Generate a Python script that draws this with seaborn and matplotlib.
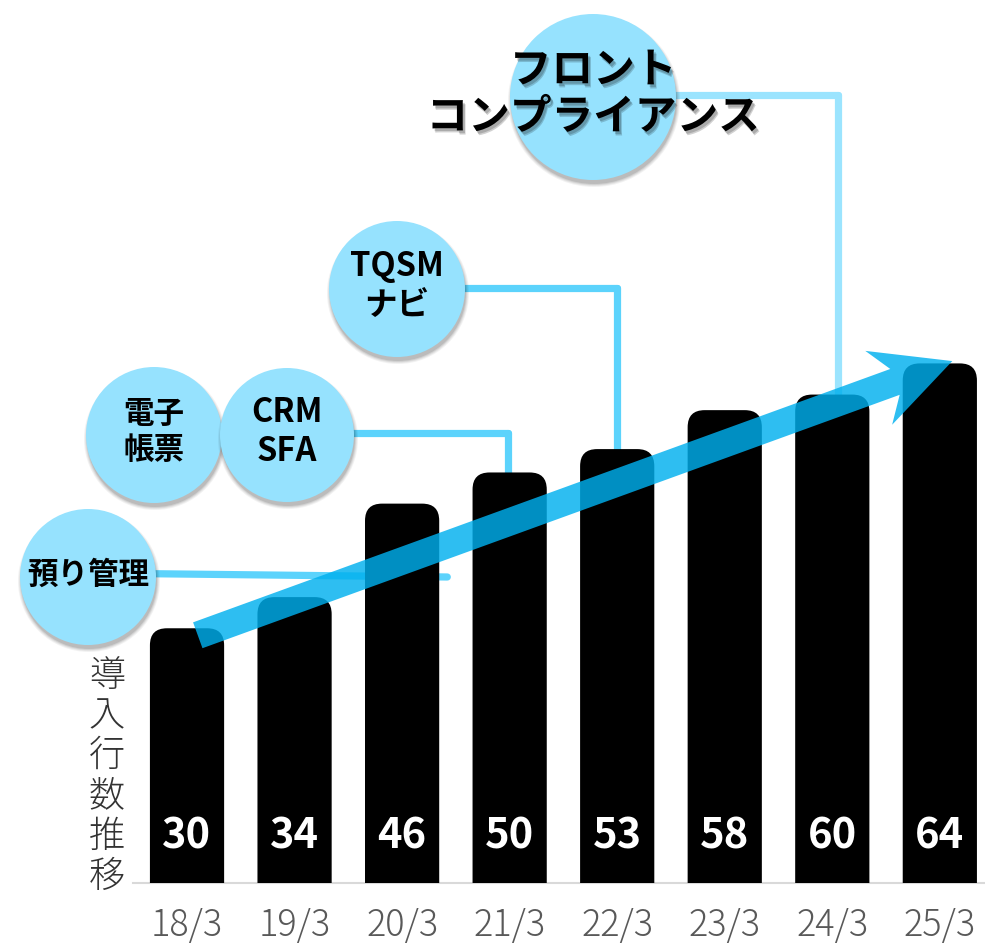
import numpy as np
import pandas as pd
import matplotlib
matplotlib.use("Agg")
import matplotlib.pyplot as plt
import seaborn as sns
from matplotlib.patches import FancyBboxPatch, Circle, Polygon
import matplotlib.patheffects as pe

# ---------------- data ----------------
periods = ["18/3", "19/3", "20/3", "21/3", "22/3", "23/3", "24/3", "25/3"]
counts = [30, 34, 46, 50, 53, 58, 60, 64]
ylabel_text = "導入行数推移"
milestone_labels = ["預り管理", "電子\n帳票", "CRM\nSFA", "TQSM\nナビ", "フロント\nコンプライアンス"]

# ---------------- style ----------------
sns.set_theme(style="white")
plt.rcParams["font.family"] = ["Noto Sans CJK JP", "DejaVu Sans"]

BUBBLE = "#96E2FE"
LINE = "#5CD3FC"
LINE_LIGHT = "#9BE4FE"
ARROW = "#00B0EE"

W, H = 985, 948
fig = plt.figure(figsize=(W / 100, H / 100), dpi=100)

# layer below bars (connector lines) in pixel coordinates
ax_under = fig.add_axes([0, 0, 1, 1], zorder=0)
ax_under.set_xlim(0, W); ax_under.set_ylim(H, 0); ax_under.axis("off")

# main bar axes
left_px, base_px = 133.25, 883
ax = fig.add_axes([left_px / W, (H - base_px) / H, (W - left_px) / W, base_px / H], zorder=1)
ax.patch.set_alpha(0)
df = pd.DataFrame({"period": periods, "count": counts})
sns.barplot(data=df, x="period", y="count", color="black", width=0.69,
            saturation=1, ax=ax)
ax.set_xlim(-0.5, 7.42)
ax.set_ylim(-2.7, 110.65)

p0 = ax.transData.transform((0, 0)); p1 = ax.transData.transform((1, 1))
ppx, ppy = p1[0] - p0[0], p1[1] - p0[1]
rad_px = 17
bar_info = []
for bar in list(ax.patches):
    x0, w, h = bar.get_x(), bar.get_width(), bar.get_height()
    bottom = -12
    fb = FancyBboxPatch((x0, bottom), w, h - bottom,
                        boxstyle=f"round,pad=0,rounding_size={rad_px / ppx}",
                        mutation_aspect=ppx / ppy, fc="black", ec="none", zorder=3)
    ax.add_patch(fb)
    bar_info.append((x0 + w / 2, h))
    bar.remove()

for (cx, h) in bar_info:
    ax.text(cx, 3.3, f"{int(round(h))}", ha="center", va="center", color="white",
            fontsize=30, fontweight="bold", zorder=4)

sns.despine(ax=ax, left=True)
ax.spines["bottom"].set_color("#D9D9D9")
ax.spines["bottom"].set_linewidth(1.5)
ax.spines["bottom"].set_zorder(1)
ax.set_yticks([])
ax.set_xlabel("")
ax.tick_params(axis="x", length=0, pad=17, labelsize=26, labelcolor="#595959")
for t in ax.get_xticklabels():
    t.set_fontweight("light")
ax.set_ylabel("\n".join(ylabel_text), rotation=0, fontsize=26, color="#333333",
              linespacing=1.06, ha="center", va="center", fontweight="light")
ax.yaxis.set_label_coords((107 - left_px) / (W - left_px), (base_px - 776) / base_px)


def to_px(x, y):
    d = ax.transData.transform((x, y))
    return d[0], H - d[1]


# top layer
ax_over = fig.add_axes([0, 0, 1, 1], zorder=3)
ax_over.set_xlim(0, W); ax_over.set_ylim(H, 0); ax_over.axis("off")

# ---- connector lines (under bars) ----
lw = 5.2
def seg(pts, color):
    xs, ys = zip(*pts)
    ax_under.plot(xs, ys, color=color, lw=lw, solid_capstyle="round",
                  solid_joinstyle="round")

# 預り管理 -> to the right of bar 3
ex, _ = to_px(2 + 0.42, 0)
seg([(88, 573), (ex, 577)], LINE)
# CRM SFA -> bar 4
bx, by = to_px(3, counts[3])
seg([(287, 433), (bx - 2, 433)], LINE); seg([(bx - 2, 433), (bx - 2, by + 2)], LINE)
# TQSM -> bar 5
bx, by = to_px(4, counts[4])
seg([(397, 288), (bx, 288)], LINE); seg([(bx, 288), (bx, by + 2)], LINE)
# フロント -> bar 7
bx, by = to_px(6, counts[6])
seg([(593, 95), (bx + 6, 95)], LINE_LIGHT); seg([(bx + 6, 95), (bx + 6, by + 2)], LINE_LIGHT)

# ---- bubbles ----
def bubble(cx, cy, r, label, fs, ty, ls=1.2, text_shadow=False):
    for k, a in enumerate([0.05, 0.06, 0.08, 0.10]):
        ax_over.add_patch(Circle((cx + 1, cy + 4), r + 3 - k, fc="#000000",
                                 ec="none", alpha=a))
    ax_over.add_patch(Circle((cx, cy), r, fc=BUBBLE, ec="none"))
    effects = None
    if text_shadow:
        effects = [pe.SimplePatchShadow(offset=(2, -3), shadow_rgbFace="#000000", alpha=0.18),
                   pe.SimplePatchShadow(offset=(1.5, -2), shadow_rgbFace="#000000", alpha=0.18),
                   pe.Normal()]
    ax_over.text(cx, ty, label, ha="center", va="center", fontsize=fs,
                 fontweight="bold", color="black", linespacing=ls,
                 path_effects=effects)

bubble(88, 577, 68, milestone_labels[0], 22, 575)
bubble(154, 435, 68, milestone_labels[1], 22, 432)
bubble(287, 435, 67, milestone_labels[2], 23.5, 432)
bubble(397, 289, 68, milestone_labels[3], 23.5, 286)
bubble(593, 97, 83, milestone_labels[4], 30, 94, ls=1.15, text_shadow=True)

# ---- trend arrow from first bar to last bar ----
sx, sy = to_px(0 + 0.1, counts[0] - 0.9)
tx, ty = to_px(len(counts) - 1 + 0.116, counts[-1] + 0.3)
d = np.array([tx - sx, ty - sy]); L = np.hypot(*d); d = d / L
n = np.array([d[1], -d[0]])
hw, hhw, hl, nl = 13.75, 39.3, 78.3, 61.0
local = [(0, hw), (L - nl, hw), (L - hl, hhw), (L, 0), (L - hl, -hhw), (L - nl, -hw), (0, -hw)]
pts = [(sx + u * d[0] + v * n[0], sy + u * d[1] + v * n[1]) for u, v in local]
ax_over.add_patch(Polygon(pts, closed=True, fc=ARROW, ec="none", alpha=0.82))

fig.savefig("out.png", dpi=100)
